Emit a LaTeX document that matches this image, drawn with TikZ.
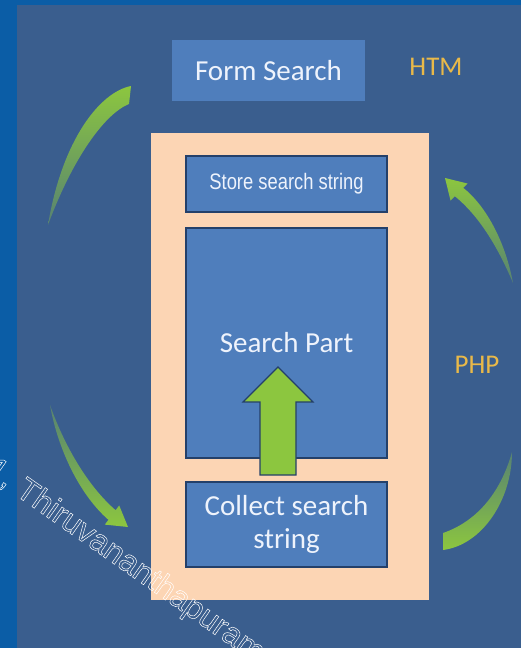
\documentclass[tikz,border=0pt]{standalone}
\usepackage{fontspec}
\setmainfont{Carlito}
\newfontfamily\narrowfont[FakeStretch=0.82]{Liberation Sans}
\newfontfamily\markfont{Liberation Sans}
\newcommand\hollow[1]{\special{pdf:literal direct 1 Tr 0.5 w}#1\special{pdf:literal direct 0 Tr}}
\definecolor{bandblue}{HTML}{0B5DA6}
\definecolor{slate}{HTML}{3A5E8E}
\definecolor{boxblue}{HTML}{4F7EBC}
\definecolor{boxline}{HTML}{24406A}
\definecolor{peach}{HTML}{FCD5B4}
\definecolor{leaf}{HTML}{8CC63F}
\definecolor{amber}{HTML}{E9B949}
\definecolor{paper}{HTML}{EEF3FC}
\tikzset{
  box/.style={fill=boxblue, draw=boxline, line width=1.6pt, minimum width=201pt, inner sep=0pt, align=center, text=paper},
  big/.style={font=\fontsize{29}{33}\selectfont},
  lang/.style={text=amber, inner sep=0pt, font=\fontsize{27}{27}\selectfont},
  fadedown/.style={top color=leaf, middle color=leaf, bottom color=leaf!35!slate},
  fadeup/.style={top color=leaf!35!slate, middle color=leaf, bottom color=leaf},
  wmark/.style={rotate=-35, anchor=base west, inner sep=0pt, text=white, font=\markfont\fontsize{32}{32}\selectfont}
}

\begin{document}
\begin{tikzpicture}[x=1pt,y=-1pt]
\useasboundingbox (0,0) rectangle (521,648);
\clip (0,0) rectangle (521,648);
\fill[slate] (0,0) rectangle (521,648);
\fill[bandblue] (0,0) rectangle (17,648);
\fill[bandblue] (0,0) rectangle (521,5);

\node[fill=boxblue, minimum width=193pt, minimum height=61pt, inner sep=0pt, text=paper, big] (form) at (268.5,70.5) {Form Search};
\node[lang] (htm) at (436,67) {HTM};
\node[fill=peach, minimum width=278pt, minimum height=467pt] (frame) at (290,366.5) {};
\node[box, minimum height=56pt, font=\narrowfont\fontsize{22.4}{22.4}\selectfont] (store) at (286.5,184) {Store search string};
\node[box, minimum height=230pt, big] (part) at (286.5,343) {Search Part};
\node[box, minimum height=85pt, big] (collect) at (286.5,524.5) {Collect search\\string};
\node[lang] (php) at (477,365) {PHP};

\draw[fill=leaf, draw=boxline, line width=1.2pt] (260,475) -- (260,402) -- (243,402) -- (278,367) -- (313,402) -- (296,402) -- (296,475) -- cycle;

\shade[fadedown] (131,86) .. controls (100,92) and (62,140) .. (48,225) .. controls (72,160) and (104,114) .. (129,104) -- cycle;
\shade[fadeup] (50,405) .. controls (58,450) and (80,495) .. (108.4,519.8) -- (104.8,524.6) -- (128,527) -- (119.2,505.4) -- (115.6,510.2) .. controls (90,488) and (66,450) .. (50,405) -- cycle;
\shade[fadedown] (463.2,187.8) -- (467.5,183.5) -- (445,178) -- (450.5,200.5) -- (454.8,196.2) .. controls (478,215) and (497,245) .. (513,283) .. controls (505,240) and (485,205) .. (463.2,187.8) -- cycle;
\shade[fadeup] (512,452) .. controls (500,495) and (475,522) .. (443,533) -- (443,550) .. controls (482,545) and (512,500) .. (512,452) -- cycle;

\node[wmark] (wm) at (14,494) {\hollow{Thiruvananthapuram}};
\node[wmark, anchor=base east] (wmone) at (6.7,488.9) {\hollow{1,}};
\end{tikzpicture}
\end{document}
